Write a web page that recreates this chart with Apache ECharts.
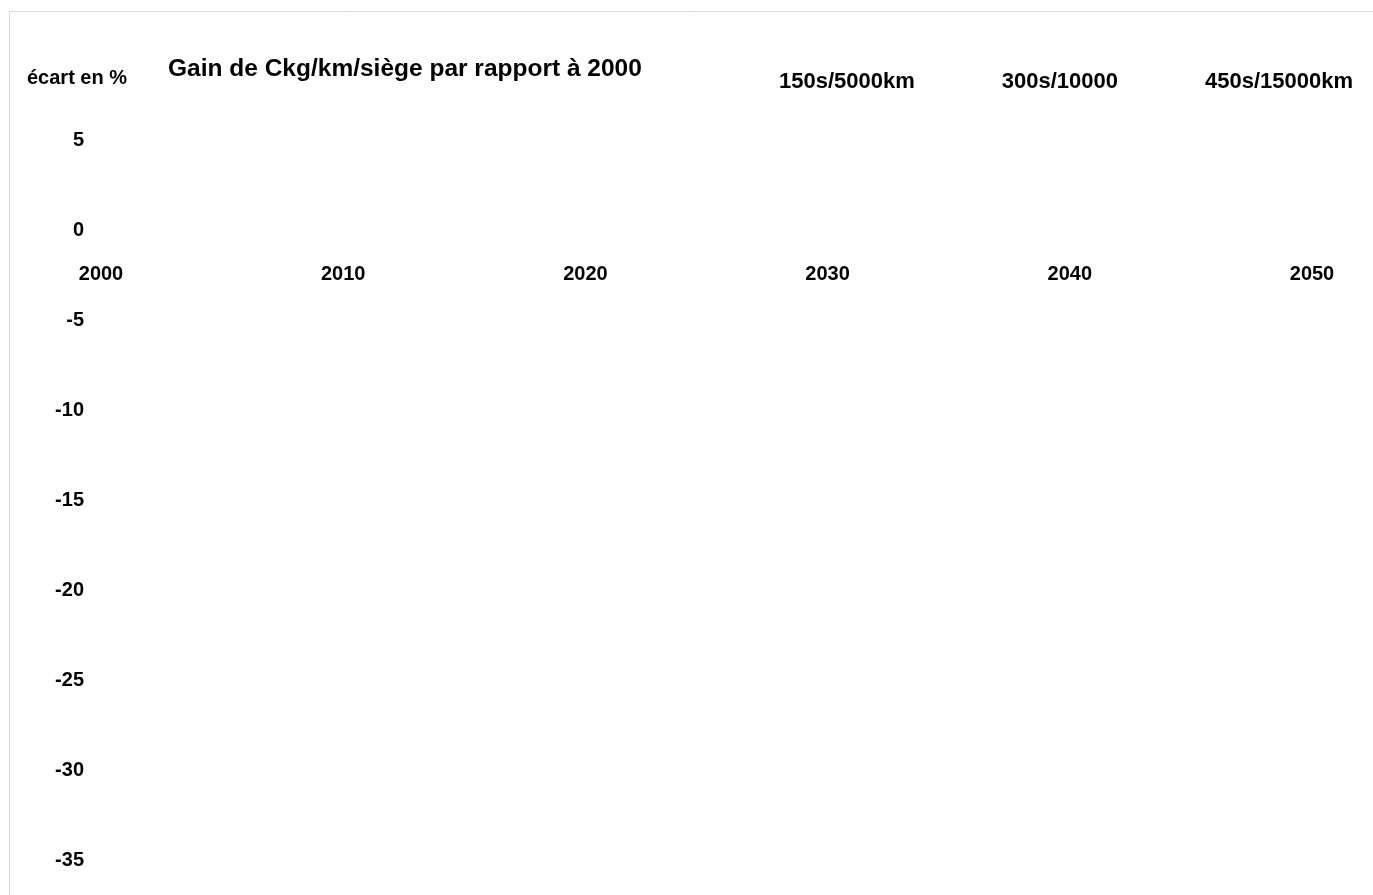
<!DOCTYPE html>
<html>
<head>
<meta charset="utf-8">
<script src="https://cdn.jsdelivr.net/npm/echarts@6/dist/echarts.min.js"></script>
<style>
html,body{margin:0;padding:0;background:#fff;overflow:hidden;}
#c{width:1373px;height:895px;}
</style>
</head>
<body>
<div id="c"></div>
<script>
// Data (no visible marks in the reference: series are empty)
const seriesNames = ["150s/5000km", "300s/10000", "450s/15000km"];
const s150 = [];
const s300 = [];
const s450 = [];
const xTicks = [2000, 2010, 2020, 2030, 2040, 2050];
const yTicks = [5, 0, -5, -10, -15, -20, -25, -30, -35];
const titleText = "Gain de Ckg/km/siège par rapport à 2000";
const yName = "écart en %";

const FONT = "'Liberation Sans Narrow', 'Liberation Sans', Arial, sans-serif";
const chart = echarts.init(document.getElementById('c'), null, {renderer: 'canvas'});
const allSeries = [s150, s300, s450];

chart.setOption({
  backgroundColor: '#fff',
  animation: false,
  graphic: [{
    type: 'rect', silent: true,
    shape: {x: 9.5, y: 11.5, width: 2000, height: 2000},
    style: {fill: 'none', stroke: '#d9d9d9', lineWidth: 1}
  }],
  title: {
    text: titleText, left: 163, top: 52,
    textStyle: {fontFamily: FONT, fontSize: 24.5, fontWeight: 'bold', color: '#000'}
  },
  legend: {
    data: seriesNames, left: 769, top: 66, icon: 'none', itemWidth: 0, itemGap: 82,
    textStyle: {fontFamily: FONT, fontSize: 22, fontWeight: 'bold', color: '#000', padding: 0}
  },
  grid: {left: 101, right: 61, top: 140, bottom: 35, containLabel: false, outerBoundsMode: 'none'},
  xAxis: {
    type: 'value', min: xTicks[0], max: xTicks[xTicks.length - 1], interval: 10,
    position: 'bottom', offset: -630,
    axisLine: {show: false, onZero: false},
    axisTick: {show: false}, splitLine: {show: false},
    axisLabel: {fontFamily: FONT, fontSize: 20, fontWeight: 'bold', color: '#000', margin: 34,
      formatter: v => String(v)}
  },
  yAxis: {
    type: 'value', min: yTicks[yTicks.length - 1], max: yTicks[0], interval: 5,
    name: yName, nameLocation: 'end', nameGap: 0,
    nameTextStyle: {fontFamily: FONT, fontSize: 20, fontWeight: 'bold', color: '#000', align: 'center', padding: [0, 0, 52, -48]},
    axisLine: {show: false}, axisTick: {show: false}, splitLine: {show: false},
    axisLabel: {fontFamily: FONT, fontSize: 20, fontWeight: 'bold', color: '#000', margin: 17}
  },
  series: seriesNames.map((n, i) => ({
    name: n, type: 'line', data: allSeries[i], showSymbol: false,
    lineStyle: {width: 2}
  }))
});
</script>
</body>
</html>
